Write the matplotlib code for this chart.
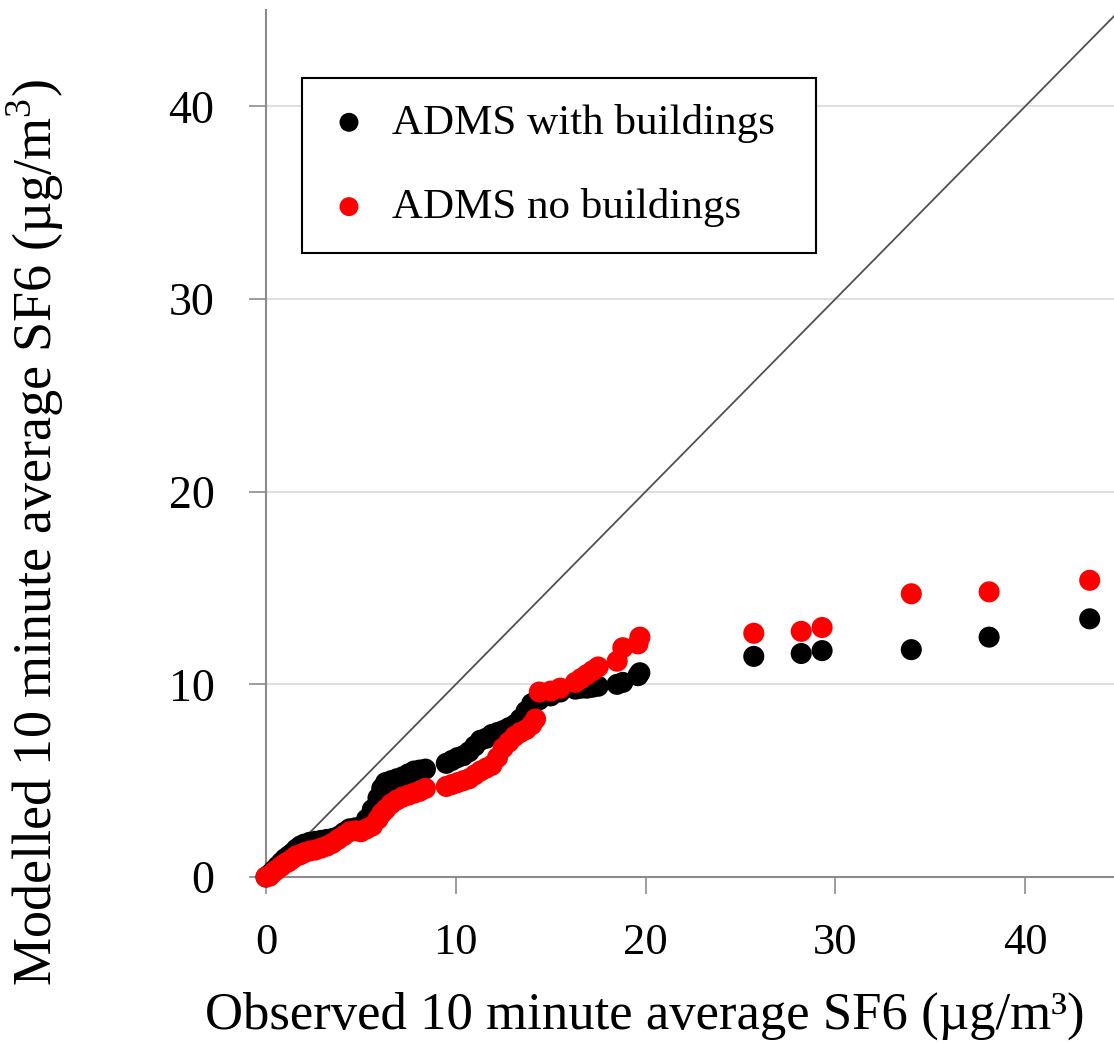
import matplotlib
matplotlib.use('Agg')
import matplotlib.pyplot as plt

# Observed (sorted) concentrations, shared by both model runs
observed = [0.0, 0.2, 0.4, 0.6, 0.8, 1.0, 1.2, 1.4, 1.6, 1.8, 2.0, 2.3, 2.6, 2.9,
            3.2, 3.5, 3.8, 4.1, 4.4, 4.7, 5.0, 5.3, 5.6, 5.9, 6.1, 6.3, 6.6, 6.9,
            7.2, 7.5, 7.8, 8.1, 8.4, 9.5, 9.8, 10.1, 10.4, 10.7, 11.0, 11.3, 11.6,
            11.9, 12.2, 12.5, 12.8, 13.1, 13.4, 13.7, 14.0, 14.2, 14.4, 15.0, 15.5,
            16.3, 16.6, 16.9, 17.2, 17.5, 18.5, 18.8, 19.6, 19.7,
            25.7, 28.2, 29.3, 34.0, 38.1, 43.4]

with_buildings = [0.0, 0.15, 0.35, 0.55, 0.75, 0.95, 1.1, 1.25, 1.45, 1.6, 1.7, 1.8,
                  1.85, 1.9, 1.95, 2.0, 2.1, 2.3, 2.5, 2.55, 2.6, 3.0, 3.5, 4.1, 4.6,
                  4.9, 5.0, 5.1, 5.2, 5.35, 5.5, 5.55, 5.6, 5.9, 6.05, 6.2, 6.3, 6.5,
                  6.8, 7.1, 7.2, 7.4, 7.5, 7.6, 7.75, 7.9, 8.2, 8.6, 9.0, 9.1, 9.2,
                  9.4, 9.6, 9.75, 9.8, 9.8, 9.85, 9.9, 10.0, 10.1, 10.45, 10.6,
                  11.45, 11.6, 11.75, 11.8, 12.45, 13.4]

no_buildings = [0.0, 0.05, 0.25, 0.4, 0.55, 0.7, 0.8, 0.95, 1.1, 1.15, 1.25, 1.35,
                1.4, 1.5, 1.6, 1.75, 1.95, 2.15, 2.35, 2.4, 2.35, 2.5, 2.65, 3.0, 3.3,
                3.5, 3.8, 4.0, 4.15, 4.25, 4.35, 4.45, 4.6, 4.7, 4.8, 4.9, 5.0, 5.1,
                5.3, 5.5, 5.65, 5.8, 6.2, 6.7, 7.0, 7.3, 7.5, 7.65, 7.9, 8.2, 9.6,
                9.65, 9.8, 10.1, 10.3, 10.5, 10.7, 10.9, 11.2, 11.9, 12.1, 12.45,
                12.65, 12.75, 12.95, 14.7, 14.8, 15.4]

plt.rcParams['font.family'] = ['Liberation Serif', 'DejaVu Serif']
plt.rcParams['mathtext.fontset'] = 'custom'
plt.rcParams['mathtext.rm'] = 'Liberation Serif'

fig = plt.figure(figsize=(11.14, 10.46), dpi=100)
ax = fig.add_axes([266/1114, (1046-877)/1046, (1114-266)/1114, (877-10)/1046])

ax.set_xlim(0, 44.68)
ax.set_ylim(0, 45)

# 1:1 line
ax.plot([0, 45], [0, 45], color='#505050', lw=1.3, zorder=2)

ax.scatter(observed, with_buildings, s=230, color='black', edgecolors='none',
           label='ADMS with buildings', zorder=3, clip_on=False)
ax.scatter(observed, no_buildings, s=230, color='red', edgecolors='none',
           label='ADMS no buildings', zorder=4, clip_on=False)

ax.set_xticks([0, 10, 20, 30, 40])
ax.set_yticks([0, 10, 20, 30, 40])
ax.grid(axis='y', color='#d9d9d9', lw=1.2, zorder=0)
ax.set_axisbelow(True)

for side in ['top', 'right']:
    ax.spines[side].set_visible(False)
for side in ['left', 'bottom']:
    ax.spines[side].set_color('#8c8c8c')
    ax.spines[side].set_linewidth(1.5)

ax.tick_params(axis='x', length=12, width=1.2, color='#8c8c8c', pad=21, labelsize=32)
ax.tick_params(axis='y', length=12, width=1.2, color='#8c8c8c', pad=25, labelsize=33)

ax.set_xlabel('Observed 10 minute average SF6 (µg/m³)', fontsize=38)
ax.xaxis.set_label_coords(0.447, -0.132)
ax.set_ylabel('Modelled 10 minute average SF6 (µg/m$^3$)', fontsize=39)
ax.yaxis.set_label_coords(-0.236, 0.397)

leg = ax.legend(loc='upper left', bbox_to_anchor=(0.042, 0.724, 0.607, 0.198),
                mode='expand', borderaxespad=0, fontsize=31, frameon=True,
                fancybox=False, edgecolor='black', framealpha=1,
                handlelength=1.0, handletextpad=0.5, labelspacing=1.05,
                borderpad=0.6, markerscale=0.9)
leg.get_frame().set_linewidth(1.5)

fig.savefig('out.png', dpi=100)
